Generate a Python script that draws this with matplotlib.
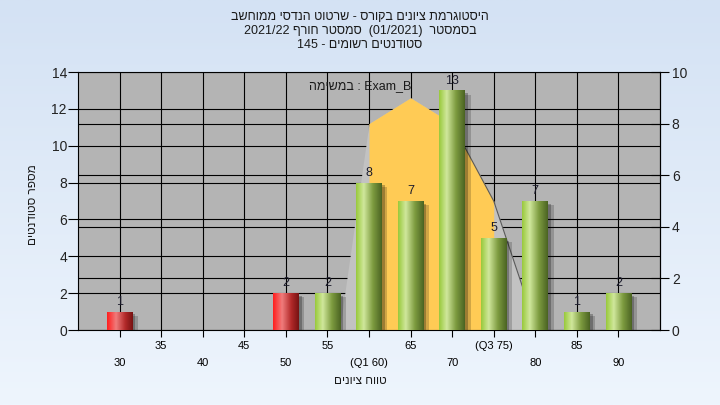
import re
import numpy as np
import matplotlib
matplotlib.use('Agg')
import matplotlib.pyplot as plt
from matplotlib.colors import LinearSegmentedColormap
from matplotlib import patheffects

plt.rcParams['font.family'] = ['Liberation Sans', 'DejaVu Sans']

# ---- data ----
grade_values = [30, 35, 40, 45, 50, 55, 60, 65, 70, 75, 80, 85, 90]
grade_labels = ['30', '35', '40', '45', '50', '55', '(Q1 60)', '65', '70', '(Q3 75)', '80', '85', '90']
counts = [1, 0, 0, 0, 2, 2, 8, 7, 13, 5, 7, 1, 2]
pass_mark = 55

# distribution area (right axis, 0-10)
curve_grades = [55, 60, 65, 70, 75, 80]
curve_values = [-3.3, 8.0, 9.0, 8.0, 5.0, 0.2]
q1, q3 = 60, 75

title_lines = [
    "היסטוגרמת ציונים בקורס - שרטוט הנדסי ממוחשב",
    "בסמסטר  (01/2021)  סמסטר חורף 2021/22",
    "סטודנטים רשומים - 145",
]
task_word = "במשימה"
task_name = "Exam_B"
ylabel = "מספר סטודנטים"
xlabel = "טווח ציונים"

left_max, right_max = 14, 10


def rtl(s):
    # matplotlib has no bidi: put a right-to-left string into visual order
    ltr = r'[A-Za-z0-9_/.]+'
    parts = re.split('(' + ltr + ')', s)
    out = []
    for p in reversed(parts):
        if re.fullmatch(ltr, p):
            out.append(p)
        else:
            out.append(p[::-1].translate(str.maketrans('()', ')(')))
    return ''.join(out)


def to_left(v):
    return np.asarray(v, dtype=float) * left_max / right_max


fig = plt.figure(figsize=(7.2, 4.05), dpi=100)

# background gradient
bg = fig.add_axes([0, 0, 1, 1], zorder=-10)
bg_cmap = LinearSegmentedColormap.from_list('bg', ['#eef5fd', '#d4e2f4'])
bg.imshow(np.linspace(0, 1, 200).reshape(-1, 1), cmap=bg_cmap, aspect='auto',
          extent=(0, 1, 0, 1), origin='lower')
bg.axis('off')

ax = fig.add_axes([78 / 720, 75 / 405, 582 / 720, 258 / 405])
ax.set_facecolor('#b4b4b4')

x = np.arange(len(grade_values))

# distribution areas
cx = np.array([grade_values.index(g) for g in curve_grades])
cy = to_left(curve_values)
ax.fill_between(cx, 0, cy, color='#c2c2c2', lw=0, zorder=2)
inq = [(g >= q1) and (g <= q3) for g in curve_grades]
ax.fill_between(cx[inq], 0, cy[inq], color='#ffcb55', lw=0, zorder=2.5)
edge = [g >= 70 for g in curve_grades]
ax.plot(cx[edge], cy[edge], color='#5a5a5a', lw=0.8, zorder=2.6)

# bars with cylinder shading
green_cmap = LinearSegmentedColormap.from_list(
    'g', [(0, '#98c93a'), (0.3, '#d0e79c'), (0.65, '#7e9c40'), (1, '#4a6322')])
red_cmap = LinearSegmentedColormap.from_list(
    'r', [(0, '#ff1c1c'), (0.35, '#f07c7c'), (0.7, '#b32a2a'), (1, '#761212')])
grad = np.linspace(0, 1, 256).reshape(1, -1)
width = 0.62
shadow = [patheffects.SimplePatchShadow(offset=(4, -3), shadow_rgbFace='black', alpha=0.18),
          patheffects.SimplePatchShadow(offset=(2, -2), shadow_rgbFace='black', alpha=0.25),
          patheffects.Normal()]
bars = ax.bar(x, counts, width=width, color='#7e9c40', lw=0, zorder=3, path_effects=shadow)
for xi, c, g, b in zip(x, counts, grade_values, bars):
    if c == 0:
        continue
    cmap = red_cmap if g < pass_mark else green_cmap
    im = ax.imshow(grad, cmap=cmap, aspect='auto', zorder=3.5,
                   extent=(xi - width / 2, xi + width / 2, 0, c))
    im.set_clip_path(b)
    ax.text(xi, c + 0.2, str(c), ha='center', va='bottom', fontsize=9,
            color='#1c1c2c', zorder=5)

ax.set_xlim(-1, len(grade_values))
ax.set_ylim(0, left_max)

# axes, ticks, grid
ax.set_xticks(x[1::2])
ax.set_xticklabels(grade_labels[1::2])
ax.set_xticks(x[0::2], minor=True)
ax.set_xticklabels(grade_labels[0::2], minor=True)
ax.tick_params(axis='x', which='both', length=5, width=0.8, labelsize=8, color='black')
ax.tick_params(axis='x', which='major', pad=3)
ax.tick_params(axis='x', which='minor', pad=15)

ax.set_yticks(np.arange(0, left_max + 1, 2))
ax.set_yticks(to_left(np.arange(0, right_max + 1, 2)), minor=True)
ax.tick_params(axis='y', which='major', length=7, width=0.8, pad=1, labelsize=10,
               labelcolor='#222222')
ax.tick_params(axis='y', which='minor', length=0)

ax.set_axisbelow(True)
ax.grid(True, which='both', color='black', lw=0.8)
for s in ax.spines.values():
    s.set_color('black')
    s.set_linewidth(0.8)

sec = ax.secondary_yaxis('right', functions=(lambda y: y * right_max / left_max,
                                             lambda y: y * left_max / right_max))
sec.set_yticks(np.arange(0, right_max + 1, 2))
sec.tick_params(direction='inout', length=13, width=0.8, pad=2, labelsize=10,
                labelcolor='#222222')
sec.spines['right'].set_linewidth(0.8)

# texts
for i, line in enumerate(title_lines):
    fig.text(0.5, 1 - (17 + 14 * i) / 405, rtl(line), ha='center', va='center',
             fontsize=9, color='#1a1a1a')
fig.text(0.5, 1 - 86 / 405, rtl(task_word) + ' : ' + task_name, ha='center',
         va='center', fontsize=9, color='#1a1a1a')
fig.text(33 / 720, 1 - 205 / 405, rtl(ylabel), rotation=90, ha='center', va='center',
         fontsize=8.5, color='#1a1a1a')
fig.text(0.5, 1 - 381 / 405, rtl(xlabel), ha='center', va='center', fontsize=8.5,
         color='#1a1a1a')

fig.savefig('out.png', dpi=100)
